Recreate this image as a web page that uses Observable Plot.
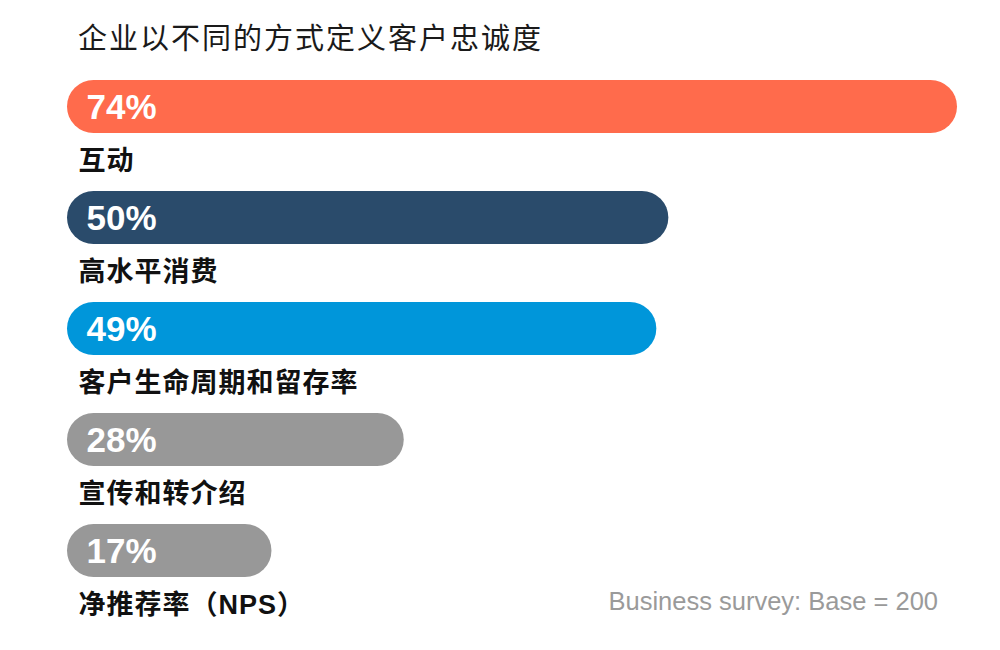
<!DOCTYPE html>
<html>
<head>
<meta charset="utf-8">
<script src="https://cdn.jsdelivr.net/npm/d3@7"></script>
<script src="https://cdn.jsdelivr.net/npm/@observablehq/plot@0.6"></script>
<style>
  html, body { margin: 0; padding: 0; background: #fff; }
  #wrap { position: relative; width: 1000px; height: 650px; overflow: hidden; }
  #title { height: 70px; box-sizing: border-box; padding: 22px 0 0 78px; font-family: "Noto Sans CJK SC", "Liberation Sans", sans-serif; font-size: 29px; line-height: 29px; letter-spacing: 2px; color: #1a1a1a; }
  #caption { position: absolute; right: 62px; top: 588px; font-family: "Liberation Sans", Arial, sans-serif; font-size: 25.5px; line-height: 26px; color: #9a9a9a; }
</style>
</head>
<body>
<div id="wrap">
  <div id="title">企业以不同的方式定义客户忠诚度</div>
  <div id="chart"></div>
  <div id="caption">Business survey: Base = 200</div>
</div>
<script>
const categories = ["互动", "高水平消费", "客户生命周期和留存率", "宣传和转介绍", "净推荐率（NPS）"];
const values = [74, 50, 49, 28, 17];
const barColors = ["#ff6b4c", "#2a4b6b", "#0096da", "#989898", "#989898"];

const data = categories.map((c, i) => ({category: c, value: values[i], color: barColors[i]}));

const svg = Plot.plot({
  width: 1000,
  height: 580,
  margin: 0,
  style: {background: "transparent"},
  x: {domain: [0, 74], range: [67, 957], axis: null},
  y: {type: "band", domain: categories, range: [10, 507], paddingInner: 0.524, paddingOuter: 0, axis: null},
  marks: [
    Plot.barX(data, {x: "value", y: "category", fill: "color", rx: 26.5, ry: 26.5}),
    Plot.text(data, {
      x: 0, y: "category", text: d => d.value + "%", textAnchor: "start", dx: 19, dy: 1,
      fill: "white", fontSize: 35, fontWeight: "bold",
      fontFamily: "'Liberation Sans', Arial, sans-serif"
    }),
    Plot.text(data, {
      x: 0, y: "category", text: "category", textAnchor: "start", dx: 11, dy: 54,
      fill: "#111", fontSize: 27, fontWeight: "bold",
      fontFamily: "'Liberation Sans', 'Noto Sans CJK SC', sans-serif",
      ariaDescription: "category labels"
    })
  ]
});
d3.select(svg).selectAll('g[aria-description="category labels"] text').style("letter-spacing", "1px");
document.getElementById("chart").appendChild(svg);
</script>
</body>
</html>
